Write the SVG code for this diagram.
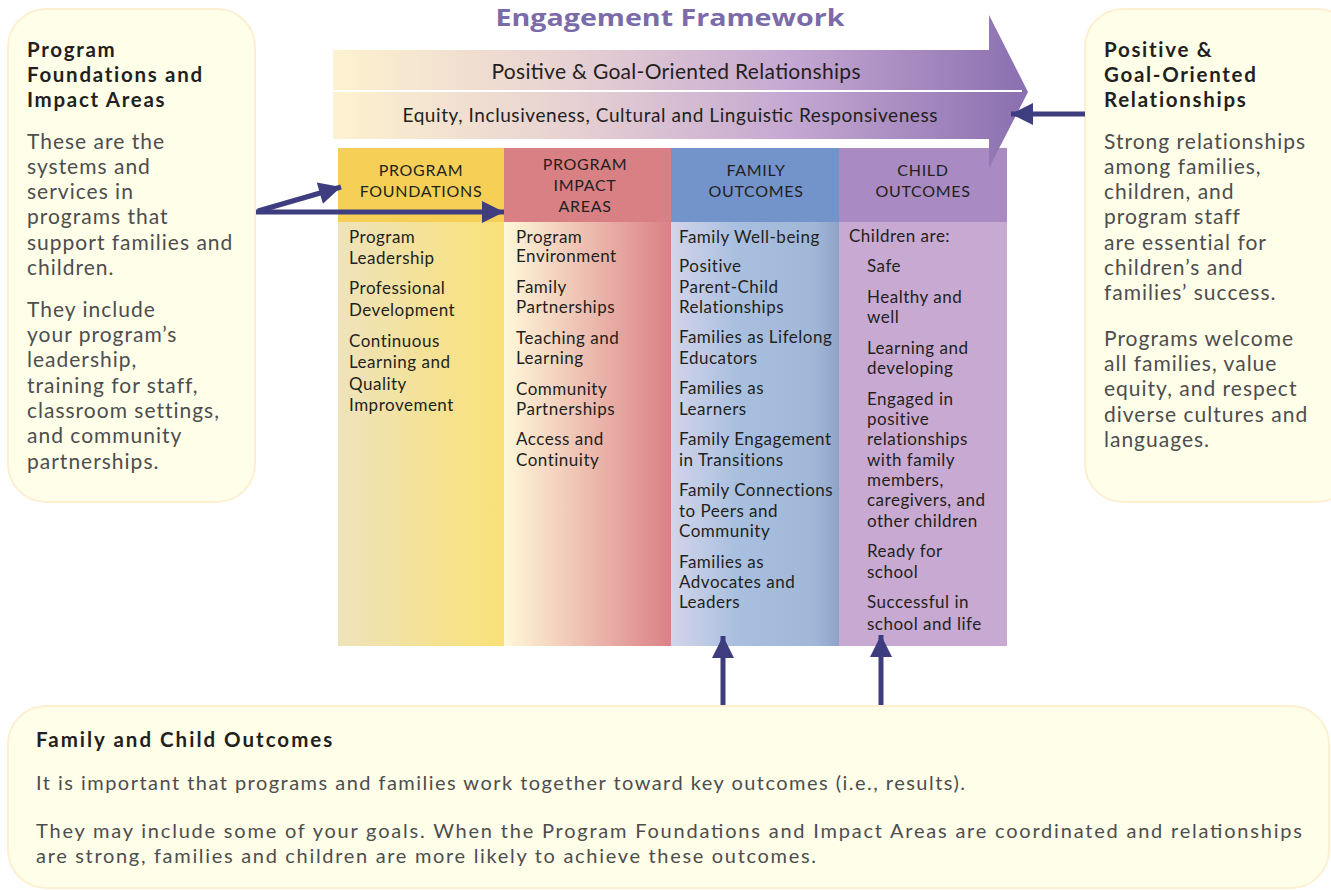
<svg xmlns="http://www.w3.org/2000/svg" width="1331" height="890" viewBox="0 0 1331 890">
<defs>
<linearGradient id="band" x1="0" y1="0" x2="1" y2="0">
<stop offset="0" stop-color="#fdf2cf"/>
<stop offset="0.35" stop-color="#e6d0d2"/>
<stop offset="0.65" stop-color="#c6a9d2"/>
<stop offset="1" stop-color="#8a6fb0"/>
</linearGradient>
<linearGradient id="g1" x1="0" y1="0" x2="1" y2="0">
<stop offset="0" stop-color="#efe3bb"/>
<stop offset="1" stop-color="#f9e177"/>
</linearGradient>
<linearGradient id="g2" x1="0" y1="0" x2="1" y2="0">
<stop offset="0" stop-color="#fff8d9"/>
<stop offset="1" stop-color="#db8186"/>
</linearGradient>
<linearGradient id="g3" x1="0" y1="0" x2="1" y2="0">
<stop offset="0" stop-color="#d3d4ea"/>
<stop offset="0.4" stop-color="#a8bfdf"/>
<stop offset="0.85" stop-color="#a1b7d8"/>
<stop offset="1" stop-color="#8fa3c8"/>
</linearGradient>
<marker id="ah" viewBox="0 0 10 10" refX="10" refY="5" markerWidth="5" markerHeight="4.4" markerUnits="strokeWidth" orient="auto">
<path d="M0,0 L10,5 L0,10 z" fill="#3d3d7f"/>
</marker>
<style>
.box{fill:#fffee8;stroke:#fdf0d2;stroke-width:2}
.ttl{font-family:Lato,"Noto Sans",sans-serif;font-weight:bold;font-size:20.5px;letter-spacing:1.7px;fill:#231f20}
.bd{font-family:Lato,"Noto Sans",sans-serif;font-size:21px;letter-spacing:1px;fill:#4d4d4f}
.bb{font-family:Lato,"Noto Sans",sans-serif;font-size:20px;fill:#4d4d4f}
.hd{font-family:Lato,"Noto Sans",sans-serif;font-size:16px;letter-spacing:0.7px;fill:#231f20;text-anchor:middle}
.ct{font-family:Lato,"Noto Sans",sans-serif;font-size:17px;letter-spacing:0.5px;fill:#231f20}
.bt{font-family:Lato,"Noto Sans",sans-serif;fill:#231f20;text-anchor:middle}
.con{stroke:#3d3d7f;stroke-width:5;fill:none}
</style>
</defs>
<rect width="1331" height="890" fill="#ffffff"/>
<text x="670" y="26" font-family="'Open Sans','Noto Sans',sans-serif" font-weight="bold" font-size="24" fill="#7b6ba8" text-anchor="middle" textLength="349" lengthAdjust="spacingAndGlyphs">Engagement Framework</text>

<g id="col-foundations">
<rect x="338" y="148" width="166" height="74" fill="#f6cf56"/>
<rect x="338" y="222" width="166" height="424" fill="url(#g1)"/>
<text class="hd" x="421" y="176">PROGRAM</text>
<text class="hd" x="421" y="197">FOUNDATIONS</text>
<text class="ct" x="349" y="243">Program</text>
<text class="ct" x="349" y="264">Leadership</text>
<text class="ct" x="349" y="294">Professional</text>
<text class="ct" x="349" y="316">Development</text>
<text class="ct" x="349" y="347">Continuous</text>
<text class="ct" x="349" y="368">Learning and</text>
<text class="ct" x="349" y="390">Quality</text>
<text class="ct" x="349" y="411">Improvement</text>
</g>

<g id="col-impact">
<rect x="504" y="148" width="167" height="74" fill="#d98085"/>
<rect x="504" y="222" width="167" height="424" fill="url(#g2)"/>
<text class="hd" x="585" y="170">PROGRAM</text>
<text class="hd" x="585" y="191">IMPACT</text>
<text class="hd" x="585" y="212">AREAS</text>
<text class="ct" x="516" y="243">Program</text>
<text class="ct" x="516" y="262">Environment</text>
<text class="ct" x="516" y="293">Family</text>
<text class="ct" x="516" y="313">Partnerships</text>
<text class="ct" x="516" y="344">Teaching and</text>
<text class="ct" x="516" y="364">Learning</text>
<text class="ct" x="516" y="395">Community</text>
<text class="ct" x="516" y="415">Partnerships</text>
<text class="ct" x="516" y="445">Access and</text>
<text class="ct" x="516" y="466">Continuity</text>
</g>

<g id="col-family">
<rect x="671" y="148" width="168" height="74" fill="#7393cb"/>
<rect x="671" y="222" width="168" height="424" fill="url(#g3)"/>
<text class="hd" x="756" y="176">FAMILY</text>
<text class="hd" x="756" y="197">OUTCOMES</text>
<text class="ct" x="679" y="243">Family Well-being</text>
<text class="ct" x="679" y="272">Positive</text>
<text class="ct" x="679" y="293">Parent-Child</text>
<text class="ct" x="679" y="313">Relationships</text>
<text class="ct" x="679" y="343">Families as Lifelong</text>
<text class="ct" x="679" y="364">Educators</text>
<text class="ct" x="679" y="394">Families as</text>
<text class="ct" x="679" y="415">Learners</text>
<text class="ct" x="679" y="445">Family Engagement</text>
<text class="ct" x="679" y="466">in Transitions</text>
<text class="ct" x="679" y="496">Family Connections</text>
<text class="ct" x="679" y="517">to Peers and</text>
<text class="ct" x="679" y="537">Community</text>
<text class="ct" x="679" y="568">Families as</text>
<text class="ct" x="679" y="588">Advocates and</text>
<text class="ct" x="679" y="608">Leaders</text>
</g>

<g id="col-child">
<rect x="839" y="148" width="168" height="74" fill="#a98ac2"/>
<rect x="839" y="222" width="168" height="424" fill="#c8a9d2"/>
<text class="hd" x="923" y="176">CHILD</text>
<text class="hd" x="923" y="197">OUTCOMES</text>
<text class="ct" x="849" y="242">Children are:</text>
<text class="ct" x="867" y="272">Safe</text>
<text class="ct" x="867" y="303">Healthy and</text>
<text class="ct" x="867" y="323">well</text>
<text class="ct" x="867" y="354">Learning and</text>
<text class="ct" x="867" y="374">developing</text>
<text class="ct" x="867" y="405">Engaged in</text>
<text class="ct" x="867" y="425">positive</text>
<text class="ct" x="867" y="445">relationships</text>
<text class="ct" x="867" y="466">with family</text>
<text class="ct" x="867" y="486">members,</text>
<text class="ct" x="867" y="506">caregivers, and</text>
<text class="ct" x="867" y="527">other children</text>
<text class="ct" x="867" y="557">Ready for</text>
<text class="ct" x="867" y="578">school</text>
<text class="ct" x="867" y="608">Successful in</text>
<text class="ct" x="867" y="630">school and life</text>
</g>

<g id="band-arrow">
<path d="M333,50 L989,50 L989,15 L1028,92 L989,168 L989,139 L333,139 Z" fill="url(#band)"/>
<line x1="333" y1="91" x2="1022" y2="91" stroke="#ffffff" stroke-width="2"/>
<text class="bt" x="676" y="79" font-size="21" textLength="369" lengthAdjust="spacing">Positive &amp; Goal-Oriented Relationships</text>
<text class="bt" x="670" y="122" font-size="19" textLength="535" lengthAdjust="spacing">Equity, Inclusiveness, Cultural and Linguistic Responsiveness</text>
</g>

<g id="box-left">
<rect class="box" x="8" y="9" width="247" height="493" rx="38"/>
<text class="ttl" x="27" y="57">Program</text>
<text class="ttl" x="27" y="82">Foundations and</text>
<text class="ttl" x="27" y="107">Impact Areas</text>
<text class="bd" x="27" y="149">These are the</text>
<text class="bd" x="27" y="174">systems and</text>
<text class="bd" x="27" y="199">services in</text>
<text class="bd" x="27" y="224">programs that</text>
<text class="bd" x="27" y="250">support families and</text>
<text class="bd" x="27" y="275">children.</text>
<text class="bd" x="27" y="317">They include</text>
<text class="bd" x="27" y="342">your program’s</text>
<text class="bd" x="27" y="367">leadership,</text>
<text class="bd" x="27" y="393">training for staff,</text>
<text class="bd" x="27" y="418">classroom settings,</text>
<text class="bd" x="27" y="443">and community</text>
<text class="bd" x="27" y="469">partnerships.</text>
</g>

<g id="box-right">
<rect class="box" x="1085" y="9" width="270" height="493" rx="38"/>
<text class="ttl" x="1104" y="57">Positive &amp;</text>
<text class="ttl" x="1104" y="82">Goal-Oriented</text>
<text class="ttl" x="1104" y="107">Relationships</text>
<text class="bd" x="1104" y="149">Strong relationships</text>
<text class="bd" x="1104" y="174">among families,</text>
<text class="bd" x="1104" y="199">children, and</text>
<text class="bd" x="1104" y="224">program staff</text>
<text class="bd" x="1104" y="250">are essential for</text>
<text class="bd" x="1104" y="275">children’s and</text>
<text class="bd" x="1104" y="300">families’ success.</text>
<text class="bd" x="1104" y="346">Programs welcome</text>
<text class="bd" x="1104" y="371">all families, value</text>
<text class="bd" x="1104" y="396">equity, and respect</text>
<text class="bd" x="1104" y="422">diverse cultures and</text>
<text class="bd" x="1104" y="447">languages.</text>
</g>

<g id="box-bottom">
<rect class="box" x="8" y="706" width="1321" height="182" rx="38"/>
<text class="ttl" x="36" y="747" textLength="298" lengthAdjust="spacing">Family and Child Outcomes</text>
<text class="bb" x="36" y="790" textLength="929" lengthAdjust="spacing">It is important that programs and families work together toward key outcomes (i.e., results).</text>
<text class="bb" x="36" y="838" textLength="1266" lengthAdjust="spacing">They may include some of your goals. When the Program Foundations and Impact Areas are coordinated and relationships</text>
<text class="bb" x="36" y="863" textLength="780" lengthAdjust="spacing">are strong, families and children are more likely to achieve these outcomes.</text>
</g>

<g id="connectors">
<line class="con" x1="256" y1="212" x2="504" y2="212" marker-end="url(#ah)"/>
<line class="con" x1="258" y1="211" x2="341" y2="187" marker-end="url(#ah)"/>
<line class="con" x1="1085" y1="114" x2="1011" y2="114" marker-end="url(#ah)"/>
<line class="con" x1="723" y1="705" x2="723" y2="636" marker-end="url(#ah)"/>
<line class="con" x1="881" y1="705" x2="881" y2="635" marker-end="url(#ah)"/>
</g>
</svg>
